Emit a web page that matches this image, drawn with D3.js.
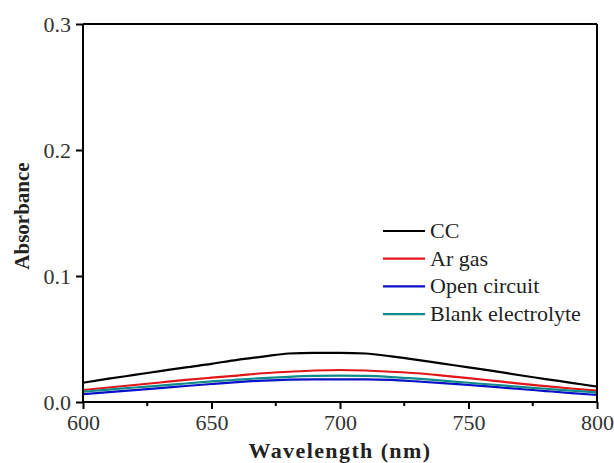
<!DOCTYPE html>
<html>
<head>
<meta charset="utf-8">
<script src="https://d3js.org/d3.v7.min.js"></script>
<style>
  body { margin: 0; background: #fff; }
  svg { font-family: "Liberation Serif", "Times New Roman", serif; }
  .axis path, .axis line { stroke: #000; stroke-width: 2px; }
</style>
</head>
<body>
<script>
// wavelength sampled every 10 nm
var wavelength = [600, 610, 620, 630, 640, 650, 660, 670, 680, 690, 700,
                  710, 720, 730, 740, 750, 760, 770, 780, 790, 800];

var ccVals    = [0.0153, 0.0185, 0.0215, 0.0245, 0.0275, 0.0303, 0.0335, 0.0360, 0.0385, 0.0390, 0.0390,
                 0.0385, 0.0362, 0.0335, 0.0305, 0.0275, 0.0245, 0.0212, 0.0182, 0.0152, 0.0122];
var arVals    = [0.0095, 0.0115, 0.0135, 0.0155, 0.0175, 0.0193, 0.0210, 0.0228, 0.0240, 0.0250, 0.0254,
                 0.0250, 0.0240, 0.0228, 0.0210, 0.0190, 0.0168, 0.0146, 0.0126, 0.0107, 0.0090];
var openVals  = [0.0063, 0.0078, 0.0095, 0.0110, 0.0127, 0.0143, 0.0158, 0.0170, 0.0178, 0.0180, 0.0180,
                 0.0180, 0.0175, 0.0163, 0.0150, 0.0135, 0.0120, 0.0103, 0.0087, 0.0071, 0.0056];
var blankVals = [0.0082, 0.0098, 0.0115, 0.0130, 0.0147, 0.0163, 0.0177, 0.0190, 0.0200, 0.0207, 0.0209,
                 0.0207, 0.0198, 0.0185, 0.0170, 0.0153, 0.0137, 0.0120, 0.0105, 0.0090, 0.0077];

var seriesNames  = ["CC", "Ar gas", "Open circuit", "Blank electrolyte"];
var seriesColors = ["#000000", "#e0161b", "#0a10c8", "#108a8a"];
var seriesVals   = [ccVals, arVals, openVals, blankVals];

var xTicks = [600, 650, 700, 750, 800];
var xMinor = [625, 675, 725, 775];
var yTicks = [0.0, 0.1, 0.2, 0.3];

var serif = "'Liberation Serif', 'Times New Roman', serif";

var margin = {top: 24, right: 17, bottom: 61, left: 83},
    width = 614 - margin.left - margin.right,
    height = 463 - margin.top - margin.bottom;

var svg = d3.select("body").append("svg")
    .attr("width", 614)
    .attr("height", 463);

var g = svg.append("g")
    .attr("transform", "translate(" + margin.left + "," + margin.top + ")");

var x = d3.scaleLinear().domain([600, 800]).range([0, width]);
var y = d3.scaleLinear().domain([0, 0.3]).range([height, 0]);

// curves
var line = d3.line()
    .x(function(d) { return x(d[0]); })
    .y(function(d) { return y(d[1]); })
    .curve(d3.curveMonotoneX);

seriesVals.forEach(function(vals, i) {
    var pts = wavelength.map(function(w, j) { return [w, vals[j]]; });
    g.append("path")
        .datum(pts)
        .attr("fill", "none")
        .attr("stroke", seriesColors[i])
        .attr("stroke-width", 2.2)
        .attr("d", line);
});

// frame (top / right, no ticks)
g.append("line").attr("x1", 0).attr("x2", width).attr("y1", 0).attr("y2", 0)
    .attr("stroke", "#000").attr("stroke-width", 2);
g.append("line").attr("x1", width).attr("x2", width).attr("y1", 0).attr("y2", height)
    .attr("stroke", "#000").attr("stroke-width", 2);

// x axis
var xAxis = g.append("g")
    .attr("class", "axis")
    .attr("transform", "translate(0," + height + ")")
    .call(d3.axisBottom(x).tickValues(xTicks).tickSize(7).tickPadding(5).tickFormat(d3.format("d")));
xAxis.select(".domain").attr("d", "M0,0H" + width);

g.append("g")
    .attr("transform", "translate(0," + height + ")")
    .selectAll("line")
    .data(xMinor)
    .enter().append("line")
    .attr("x1", function(d) { return x(d); })
    .attr("x2", function(d) { return x(d); })
    .attr("y1", 0).attr("y2", 4)
    .attr("stroke", "#000").attr("stroke-width", 2);

// y axis
var yAxis = g.append("g")
    .attr("class", "axis")
    .call(d3.axisLeft(y).tickValues(yTicks).tickSize(7).tickPadding(5).tickFormat(d3.format(".1f")));
yAxis.select(".domain").attr("d", "M0," + height + "V0");

svg.selectAll(".axis")
    .attr("font-family", serif)
    .attr("font-size", 22);
svg.selectAll(".axis text").attr("fill", "#333");

// axis titles
svg.append("text")
    .attr("x", margin.left + width / 2)
    .attr("y", 458)
    .attr("text-anchor", "middle")
    .attr("font-family", serif)
    .attr("font-size", 22)
    .attr("font-weight", "bold")
    .attr("letter-spacing", "1.4px")
    .attr("fill", "#222")
    .text("Wavelength (nm)");

svg.append("text")
    .attr("transform", "translate(29," + (margin.top + height / 2 + 3) + ") rotate(-90)")
    .attr("text-anchor", "middle")
    .attr("font-family", serif)
    .attr("font-size", 21)
    .attr("font-weight", "bold")
    .attr("fill", "#222")
    .text("Absorbance");

// legend
var legend = svg.append("g").attr("transform", "translate(383,231)");
seriesNames.forEach(function(name, i) {
    var row = legend.append("g").attr("transform", "translate(0," + (i * 27.7) + ")");
    row.append("line")
        .attr("x1", 0).attr("x2", 42)
        .attr("stroke", seriesColors[i])
        .attr("stroke-width", 2.2);
    row.append("text")
        .attr("x", 47)
        .attr("y", 7)
        .attr("font-family", serif)
        .attr("font-size", 22)
        .attr("fill", "#222")
        .text(name);
});
</script>
</body>
</html>
